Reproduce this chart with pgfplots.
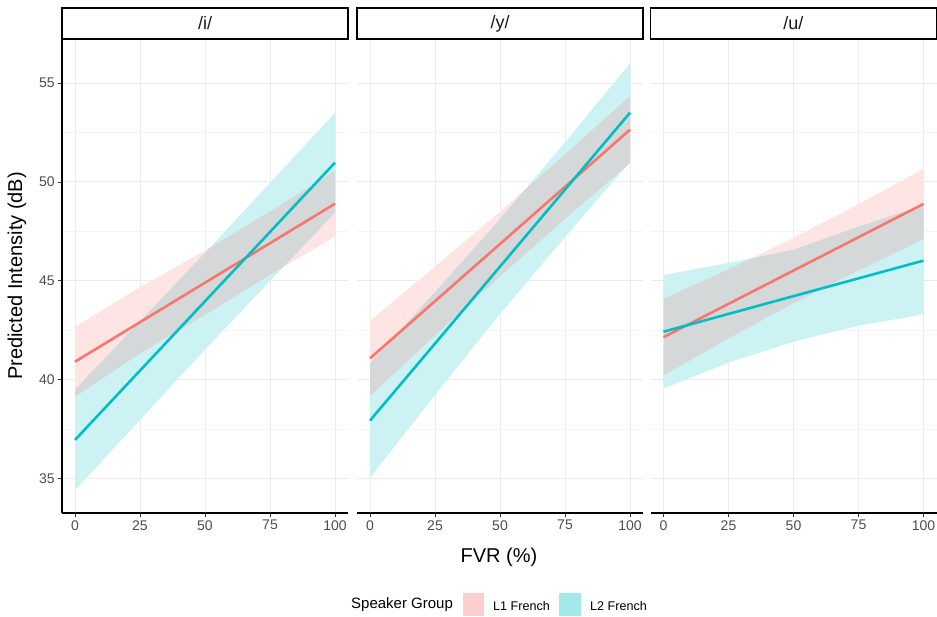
\documentclass[border=0pt]{standalone}
\usepackage{fontspec}
\setmainfont{Liberation Sans}
\usepackage{pgfplots}
\pgfplotsset{compat=1.18}
\definecolor{redl}{HTML}{F8766D}
\definecolor{cyl}{HTML}{00BFC4}
\definecolor{redf}{RGB}{254,228,226}
\definecolor{cyf}{RGB}{204,242,243}
\definecolor{ovf}{RGB}{213,216,216}
\definecolor{gridc}{RGB}{235,235,235}
\definecolor{gridm}{RGB}{244,244,244}
\definecolor{tickc}{RGB}{77,77,77}
\definecolor{stript}{RGB}{26,26,26}
\definecolor{redk}{RGB}{252,206,205}
\definecolor{cyk}{RGB}{165,232,234}
\pgfplotsset{facet/.style={
  width=286pt, height=474pt, scale only axis, anchor=south west,
  xmin=-5, xmax=105, ymin=33.24, ymax=57.24,
  xtick={0,25,50,75,100}, ytick={35,40,45,50,55},
  minor ytick={37.5,42.5,47.5,52.5},
  grid=both, major grid style={gridc, line width=1pt},
  minor grid style={gridm, line width=0.6pt},
  axis lines*=left, axis line style={black, line width=1.2pt},
  tick align=outside, major tick length=3.7pt, minor tick length=0pt,
  tick style={color=black!80, line width=0.9pt},
  ticklabel style={font=\fontsize{14}{14}\selectfont, text=tickc},
  /pgf/number format/assume math mode=true,
}, noy/.style={y axis line style={draw=none}, yticklabels={}, ytick style={draw=none}}}
\begin{document}
\begin{tikzpicture}[x=1pt,y=1pt]
\useasboundingbox (0,0) rectangle (937,616);
% Panel /i/
\begin{axis}[facet, at={(62pt,103pt)}]
\addplot[fill=redf, draw=none] coordinates {(0,42.67)(25,44.68)(50,46.52)(75,48.5)(100,50.57)(100,47.23)(75,45.3)(50,43.28)(25,41.32)(0,39.13)} -- cycle;
\addplot[fill=cyf, draw=none] coordinates {(0,39.49)(25,42.95)(50,46.41)(75,49.95)(100,53.51)(100,48.45)(75,44.99)(50,41.51)(25,37.95)(0,34.39)} -- cycle;
\addplot[fill=ovf, draw=none] coordinates {(0,39.49)(25,42.95)(50,46.41)(51.76,46.66)(75,48.5)(100,50.57)(100,48.45)(80.07,45.69)(75,45.3)(50,43.28)(25,41.32)(0,39.13)} -- cycle;
\addplot[redl, line width=2.6pt] coordinates {(0,40.9)(100,48.9)};
\addplot[cyl, line width=2.6pt] coordinates {(0,36.94)(100,50.98)};
\end{axis}
% Panel /y/
\begin{axis}[facet, noy, at={(357pt,103pt)}]
\addplot[fill=redf, draw=none] coordinates {(0,42.97)(25,45.71)(50,48.50)(75,51.39)(100,54.35)(100,50.95)(75,48.13)(50,45.22)(25,42.23)(0,39.17)} -- cycle;
\addplot[fill=cyf, draw=none] coordinates {(0,40.82)(25,44.42)(50,48.12)(75,52.01)(100,56.01)(100,51.01)(75,47.21)(50,43.32)(25,39.22)(0,35.02)} -- cycle;
\addplot[fill=ovf, draw=none] coordinates {(0,40.82)(25,44.42)(50,48.12)(59.5,49.60)(75,51.39)(100,54.35)(100,51.01)(98.47,50.78)(75,48.13)(50,45.22)(25,42.23)(0,39.17)} -- cycle;
\addplot[redl, line width=2.6pt] coordinates {(0,41.07)(100,52.65)};
\addplot[cyl, line width=2.6pt] coordinates {(0,37.92)(100,53.51)};
\end{axis}
% Panel /u/
\begin{axis}[facet, noy, at={(650.5pt,103pt)}]
\addplot[fill=redf, draw=none] coordinates {(0,44.08)(25,45.58)(50,47.17)(75,48.88)(100,50.67)(100,47.11)(75,45.52)(50,43.87)(25,42.08)(0,40.20)} -- cycle;
\addplot[fill=cyf, draw=none] coordinates {(0,45.29)(25,45.9)(50,46.57)(75,47.74)(100,48.82)(100,43.30)(75,42.72)(50,41.92)(25,40.85)(0,39.55)} -- cycle;
\addplot[fill=ovf, draw=none] coordinates {(0,44.08)(25,45.58)(33.7,46.13)(50,46.57)(75,47.74)(100,48.82)(100,47.11)(75,45.52)(50,43.87)(25,42.08)(0,40.20)} -- cycle;
\addplot[redl, line width=2.6pt] coordinates {(0,42.14)(100,48.89)};
\addplot[cyl, line width=2.6pt] coordinates {(0,42.42)(100,46.02)};
\end{axis}
% strips
\foreach \xa/\xb/\lab in {62/348/{/i/}, 357/643/{/y/}, 650.5/936.3/{/u/}}{
  \draw[black, line width=1.4pt, fill=white] (\xa,577) rectangle (\xb,608);
  \node[text=stript, font=\fontsize{18}{18}\selectfont] at ({(\xa+\xb)/2},592.5) {\lab};
}
% axis titles
\node[rotate=90, font=\fontsize{20}{20}\selectfont] at (17,340) {Predicted Intensity (dB)};
\node[font=\fontsize{20}{20}\selectfont] at (499,59) {FVR (\%)};
% legend
\node[anchor=west, inner sep=0pt, font=\fontsize{15}{15}\selectfont] at (351,11) {Speaker Group};
\fill[redk] (463,0) rectangle (484,23);
\node[anchor=west, inner sep=0pt, font=\fontsize{12.6}{12.6}\selectfont] at (493,10.5) {L1 French};
\fill[cyk] (559,0) rectangle (581,23);
\node[anchor=west, inner sep=0pt, font=\fontsize{12.6}{12.6}\selectfont] at (590,10.5) {L2 French};
\end{tikzpicture}
\end{document}
